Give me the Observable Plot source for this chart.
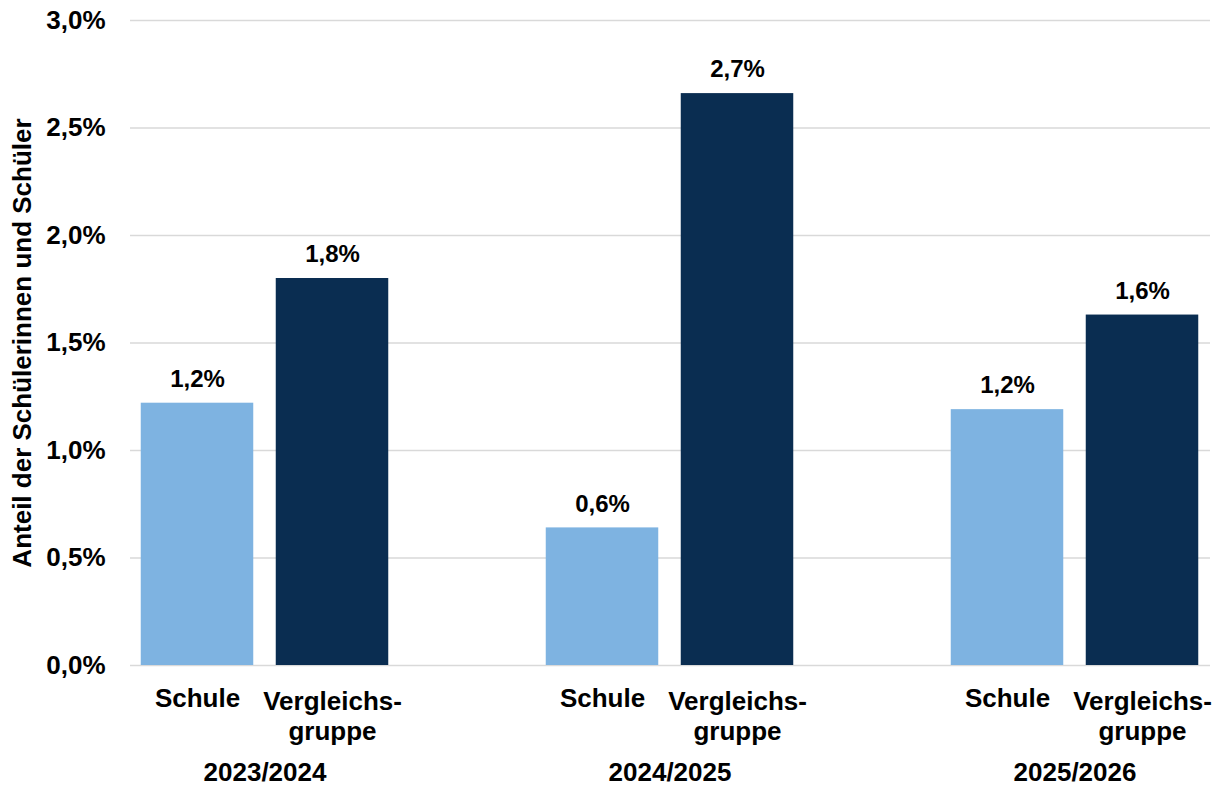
<!DOCTYPE html>
<html><head><meta charset="utf-8">
<script src="https://cdn.jsdelivr.net/npm/d3@7"></script>
<script src="https://cdn.jsdelivr.net/npm/@observablehq/plot@0.6"></script>
<style>body{margin:0;background:#fff}</style>
</head><body><div id="chart"></div>
<script>
const years = ["2023/2024", "2024/2025", "2025/2026"];
const seriesNames = ["Schule", "Vergleichsgruppe"];
const seriesLabels = ["Schule", "Vergleichs-\ngruppe"];
const schule = [1.22, 0.64, 1.19];
const vergleich = [1.80, 2.66, 1.63];
const yTicks = [0, 0.5, 1, 1.5, 2, 2.5, 3];
const yTitle = "Anteil der Schülerinnen und Schüler";
const colors = ["#7EB3E1", "#0A2D51"];

const rows = years.flatMap((yr, i) => [
  {year: yr, series: seriesNames[0], value: schule[i]},
  {year: yr, series: seriesNames[1], value: vergleich[i]}
]);
const fmt = d => d.toFixed(1).replace(".", ",") + "%";

// layout (styles only)
const step = 405.5, barW = 113, gap = 22;
const outer = (step - 2 * barW - gap) / 2;
const off = (barW + gap) / 2;
const font = "'Liberation Sans', Arial, sans-serif";

const chart = Plot.plot({
  width: 1223, height: 786,
  marginLeft: 130, marginRight: 13, marginTop: 20, marginBottom: 121,
  style: {fontFamily: font, fontWeight: "bold", background: "white", color: "#000"},
  x: {domain: years, range: [264 - step / 2, 264 + step * 2.5], padding: 0, axis: null},
  y: {domain: [0, 3], axis: null},
  marks: [
    Plot.ruleY(yTicks, {stroke: "#D9D9D9", strokeWidth: 1.5}),
    Plot.barY(rows.filter(d => d.series === seriesNames[0]), {x: "year", y: "value", fill: colors[0], insetLeft: outer, insetRight: step - outer - barW}),
    Plot.barY(rows.filter(d => d.series === seriesNames[1]), {x: "year", y: "value", fill: colors[1], insetLeft: step - outer - barW, insetRight: outer}),
    Plot.text(rows.filter(d => d.series === seriesNames[0]), {x: "year", y: "value", text: d => fmt(d.value), dx: -off, dy: -24, fontSize: 24, fontWeight: "bold", fill: "#000"}),
    Plot.text(rows.filter(d => d.series === seriesNames[1]), {x: "year", y: "value", text: d => fmt(d.value), dx: off, dy: -24, fontSize: 24, fontWeight: "bold", fill: "#000"}),
    Plot.axisY({ticks: yTicks, tickSize: 0, tickPadding: 25, tickFormat: fmt, fontSize: 26, fontWeight: "bold", label: null, fill: "#000"}),
    Plot.text([yTitle], {frameAnchor: "left", textAnchor: "middle", text: d => d, rotate: -90, dx: -108, fontSize: 26, fontWeight: "bold", fill: "#000"}),
    Plot.text(years, {x: d => d, frameAnchor: "bottom", text: () => seriesLabels[0], dx: -off, dy: 23.5, lineAnchor: "top", fontSize: 26, fontWeight: "bold", fill: "#000"}),
    Plot.text(years, {x: d => d, frameAnchor: "bottom", text: () => seriesLabels[1], dx: off, dy: 23.5, lineAnchor: "top", lineHeight: 1.15, fontSize: 26, fontWeight: "bold", fill: "#000"}),
    Plot.text(years, {x: d => d, frameAnchor: "bottom", text: d => d, dy: 97, lineAnchor: "top", fontSize: 26, fontWeight: "bold", fill: "#000"})
  ]
});
document.getElementById("chart").appendChild(chart);
</script>
</body></html>
